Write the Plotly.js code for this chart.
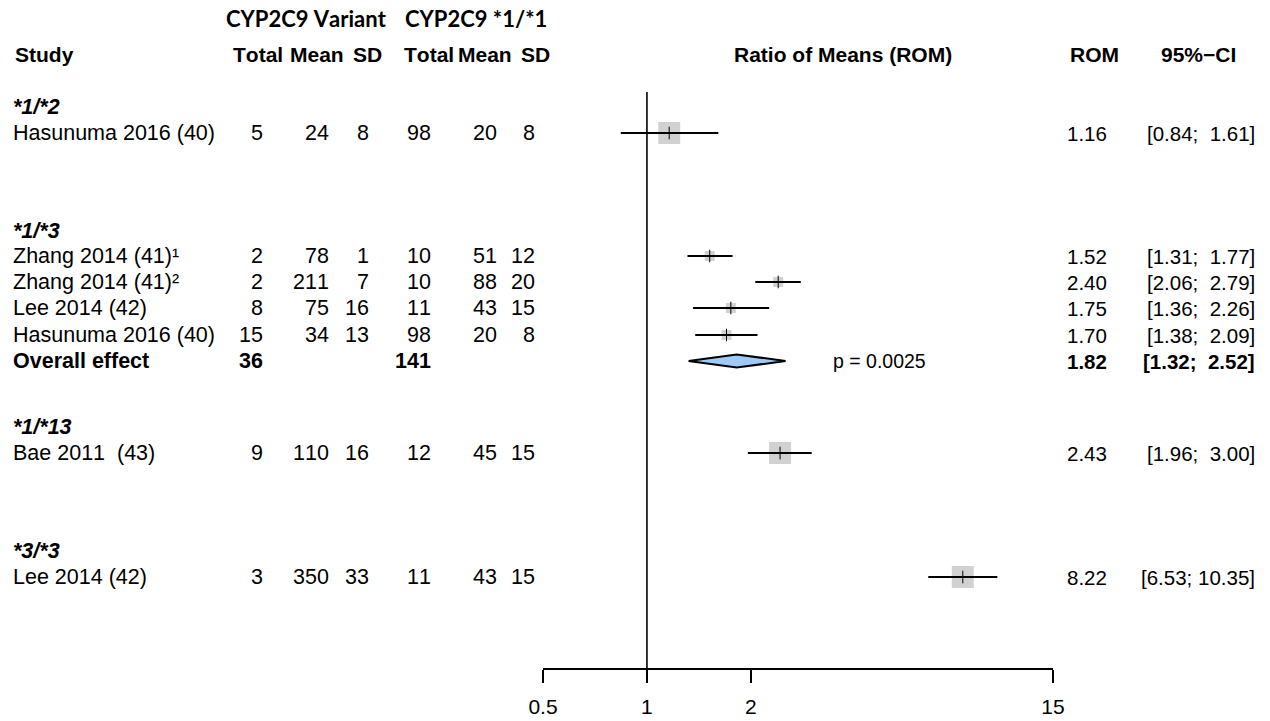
<!DOCTYPE html>
<html>
<head>
<meta charset="utf-8">
<script src="https://cdn.plot.ly/plotly-3.0.1.min.js"></script>
<style>html,body{margin:0;padding:0;background:#fff;}#chart{width:1270px;height:721px;} svg text{font-kerning:none;}</style>
</head>
<body>
<div id="chart"></div>
<script>
// ---------------- data ----------------
const subgroups = ["*1/*2", "*1/*3", "*1/*13", "*3/*3"];
const studies = ["Hasunuma 2016 (40)", "Zhang 2014 (41)¹", "Zhang 2014 (41)²", "Lee 2014 (42)", "Hasunuma 2016 (40)", "Bae 2011  (43)", "Lee 2014 (42)"];
const varTotal = [5, 2, 2, 8, 15, 9, 3];
const varMean  = [24, 78, 211, 75, 34, 110, 350];
const varSD    = [8, 1, 7, 16, 13, 16, 33];
const ctlTotal = [98, 10, 10, 11, 98, 12, 11];
const ctlMean  = [20, 51, 88, 43, 20, 45, 43];
const ctlSD    = [8, 12, 20, 15, 8, 15, 15];
const rom      = [1.16, 1.52, 2.40, 1.75, 1.70, 2.43, 8.22];
const ciLow    = [0.84, 1.31, 2.06, 1.36, 1.38, 1.96, 6.53];
const ciHigh   = [1.61, 1.77, 2.79, 2.26, 2.09, 3.00, 10.35];
const overallLabel = "Overall effect";
const overallVarTotal = 36;
const overallCtlTotal = 141;
const overallRom = 1.82;
const overallLow = 1.32;
const overallHigh = 2.52;
const overallP = "p = 0.0025";
const tickVals = [0.5, 1, 2, 15];
const tickLabels = ["0.5", "1", "2", "15"];

// ---------------- layout helpers (positions / styles) ----------------
const W = 1270, H = 721;
const studyRow = [133, 256, 282, 308, 335, 453, 577];
const groupRow = [107, 231, 427, 551];
const overallRow = 361;
const squareSize = [22, 10, 10, 10, 10, 22, 22];
const refTop = 92, axisY = 668;
const colRight = {vt: 264, vm: 330, vs: 370, ct: 432, cm: 498, cs: 536, rom: 1108, ci: 1256};
const FONT = "Liberation Sans, Arial, sans-serif";
const fsz = 21.5;
const NB = "\u00a0";

const ann = [];
function txt(s, px, py, anchor, opts) {
  opts = opts || {};
  ann.push({
    text: s, x: px / W, xref: "paper", y: py, yref: "y",
    xanchor: anchor, yanchor: "middle", showarrow: false, borderpad: 0,
    font: {family: opts.family || FONT, size: opts.size || fsz, color: "#000", weight: opts.weight || "normal", style: opts.style || "normal"}
  });
}

// headers
txt("CYP2C9 Variant", 225, 18, "left", {family: "Lato, Open Sans, sans-serif", weight: "bold", size: 22});
txt("CYP2C9 *1/*1", 404, 18, "left", {family: "Lato, Open Sans, sans-serif", weight: "bold", size: 22});
txt("Study", 14, 54, "left", {weight: "bold", size: 21});
txt("Total", 284, 54, "right", {weight: "bold", size: 21});
txt("Mean", 345, 54, "right", {weight: "bold", size: 21});
txt("SD", 383, 54, "right", {weight: "bold", size: 21});
txt("Total", 455, 54, "right", {weight: "bold", size: 21});
txt("Mean", 513, 54, "right", {weight: "bold", size: 21});
txt("SD", 551, 54, "right", {weight: "bold", size: 21});
txt("Ratio of Means (ROM)", 843, 54, "center", {weight: "bold", size: 21});
txt("ROM", 1120, 54, "right", {weight: "bold", size: 21});
txt("95%\u2212CI", 1237, 54, "right", {weight: "bold", size: 21});

// subgroups
subgroups.forEach((g, i) => txt(g, 12, groupRow[i], "left", {weight: "bold", style: "italic"}));

// studies
const f2 = v => v.toFixed(2);
const ciText = (lo, hi) => "[" + f2(lo) + ";" + NB + (f2(hi).length < 5 ? NB : "") + f2(hi) + "]";
studies.forEach((s, i) => {
  const y = studyRow[i];
  txt(s, 12, y, "left");
  txt(String(varTotal[i]), colRight.vt, y, "right");
  txt(String(varMean[i]), colRight.vm, y, "right");
  txt(String(varSD[i]), colRight.vs, y, "right");
  txt(String(ctlTotal[i]), colRight.ct, y, "right");
  txt(String(ctlMean[i]), colRight.cm, y, "right");
  txt(String(ctlSD[i]), colRight.cs, y, "right");
  txt(f2(rom[i]), colRight.rom, y, "right", {size: 20.5});
  txt(ciText(ciLow[i], ciHigh[i]), colRight.ci, y, "right", {size: 20.5});
});

// overall
txt(overallLabel, 12, overallRow, "left", {weight: "bold"});
txt(String(overallVarTotal), colRight.vt, overallRow, "right", {weight: "bold"});
txt(String(overallCtlTotal), colRight.ct, overallRow, "right", {weight: "bold"});
txt(overallP, 832, overallRow, "left", {size: 19.5});
txt(f2(overallRom), colRight.rom, overallRow, "right", {weight: "bold", size: 20.5});
txt(ciText(overallLow, overallHigh), colRight.ci, overallRow, "right", {weight: "bold", size: 20.5});

// ---------------- traces ----------------
const traces = [];
// reference line at ROM = 1
traces.push({x: [1, 1], y: [refTop, axisY], mode: "lines", line: {color: "#000", width: 1.6}, hoverinfo: "skip"});
// weight squares
traces.push({x: rom, y: studyRow, mode: "markers", marker: {symbol: "square", color: "#bebebe", size: squareSize, line: {width: 0}}, hoverinfo: "skip", cliponaxis: false});
// CI lines
const cx = [], cy = [];
rom.forEach((r, i) => { cx.push(ciLow[i], ciHigh[i], null); cy.push(studyRow[i], studyRow[i], null); });
traces.push({x: cx, y: cy, mode: "lines", line: {color: "#000", width: 2}, hoverinfo: "skip", connectgaps: false});
// point ticks
traces.push({x: rom, y: studyRow, mode: "markers", marker: {symbol: "line-ns-open", size: 9, color: "#000", line: {color: "#000", width: 1}}, hoverinfo: "skip", cliponaxis: false});
// overall diamond
const dh = 6.5;
traces.push({
  x: [overallLow, overallRom, overallHigh, overallRom, overallLow],
  y: [overallRow, overallRow - dh, overallRow, overallRow + dh, overallRow],
  mode: "lines", fill: "toself", fillcolor: "#9dcbf8", line: {color: "#000", width: 2}, hoverinfo: "skip"
});

const layout = {
  width: W, height: H,
  margin: {l: 0, r: 0, t: 0, b: 0},
  paper_bgcolor: "#fff", plot_bgcolor: "rgba(0,0,0,0)",
  showlegend: false,
  xaxis: {
    type: "log", domain: [543 / W, 1053 / W],
    range: [Math.log10(0.5), Math.log10(15)],
    tickvals: tickVals, ticktext: tickLabels,
    showline: true, linecolor: "#000", linewidth: 1.6,
    ticks: "outside", ticklen: 13, tickwidth: 1.6, tickcolor: "#000",
    ticklabelstandoff: 6,
    showgrid: false, zeroline: false,
    tickfont: {family: FONT, size: 21, color: "#000"},
    anchor: "free", position: (H - axisY) / H
  },
  yaxis: {range: [H, 0], domain: [0, 1], visible: false, showgrid: false, zeroline: false},
  annotations: ann
};

Plotly.newPlot("chart", traces, layout, {displayModeBar: false, staticPlot: true});
</script>
</body>
</html>
